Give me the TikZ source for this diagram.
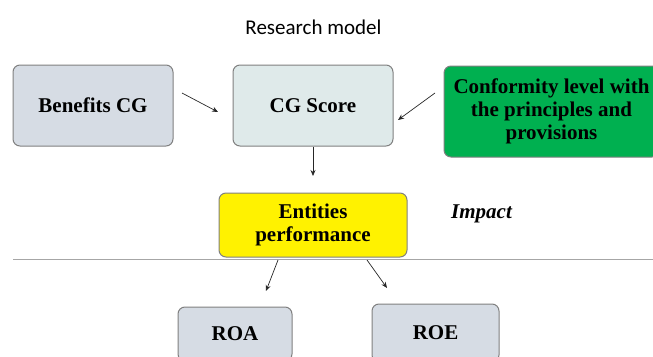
\documentclass[tikz,border=0pt]{standalone}
\usepackage{fontspec}
\setmainfont{Liberation Serif}
\newfontfamily\titlefont{Carlito}
\usetikzlibrary{arrows.meta}
\definecolor{boxgray}{HTML}{D6DCE4}
\definecolor{boxcyan}{HTML}{DFEAEA}
\definecolor{boxgreen}{HTML}{00B050}
\definecolor{edgegray}{HTML}{808080}
\definecolor{rulegray}{HTML}{A6A6A6}
\tikzset{
  box/.style={draw=edgegray, line width=1pt, rounded corners=7pt, align=center,
    font=\fontsize{21}{23}\selectfont\bfseries, inner sep=0pt},
  arr/.style={draw=black!85, line width=0.7pt, -{Stealth[length=6pt,width=5pt]}},
}
\begin{document}
\begin{tikzpicture}[x=1pt,y=-1pt]
\useasboundingbox (0,0) rectangle (653,356);
\node[font=\titlefont\fontsize{21}{22}\selectfont] (title) at (313.5,27) {Research model};
\node[box, fill=boxgray, minimum width=160pt, minimum height=81pt] (ben) at (93,105.5) {Benefits CG};
\node[box, fill=boxcyan, minimum width=160pt, minimum height=81pt] (cg) at (313,105.5) {CG Score};
\node[box, fill=boxgreen, minimum width=215pt, minimum height=91pt] (conf) at (551.5,111.5) {Conformity level with\\the principles and\\provisions};
\node[box, fill=yellow, minimum width=188pt, minimum height=64pt] (ent) at (313,225) {Entities\\performance};
\node[font=\fontsize{21}{22}\selectfont\bfseries\itshape] (imp) at (481.5,214) {Impact};
\node[box, fill=boxgray, minimum width=114pt, minimum height=54pt] (roa) at (235,334) {ROA};
\node[box, fill=boxgray, minimum width=127pt, minimum height=58pt] (roe) at (435.5,333) {ROE};
\coordinate (l1) at (13,259);
\coordinate (l2) at (653,259);
\draw[rulegray, line width=1pt] (l1) -- (l2);
\coordinate (a1s) at (182,93);
\coordinate (a1e) at (218,112);
\draw[arr] (a1s) -- (a1e);
\coordinate (a2s) at (435,93);
\coordinate (a2e) at (398,120);
\draw[arr] (a2s) -- (a2e);
\coordinate (a3e) at (313,176);
\draw[arr] (cg.south) -- (a3e);
\coordinate (a4s) at (278,260);
\coordinate (a4e) at (266,291);
\draw[arr] (a4s) -- (a4e);
\coordinate (a5s) at (367,260);
\coordinate (a5e) at (387,288);
\draw[arr] (a5s) -- (a5e);
\end{tikzpicture}
\end{document}
